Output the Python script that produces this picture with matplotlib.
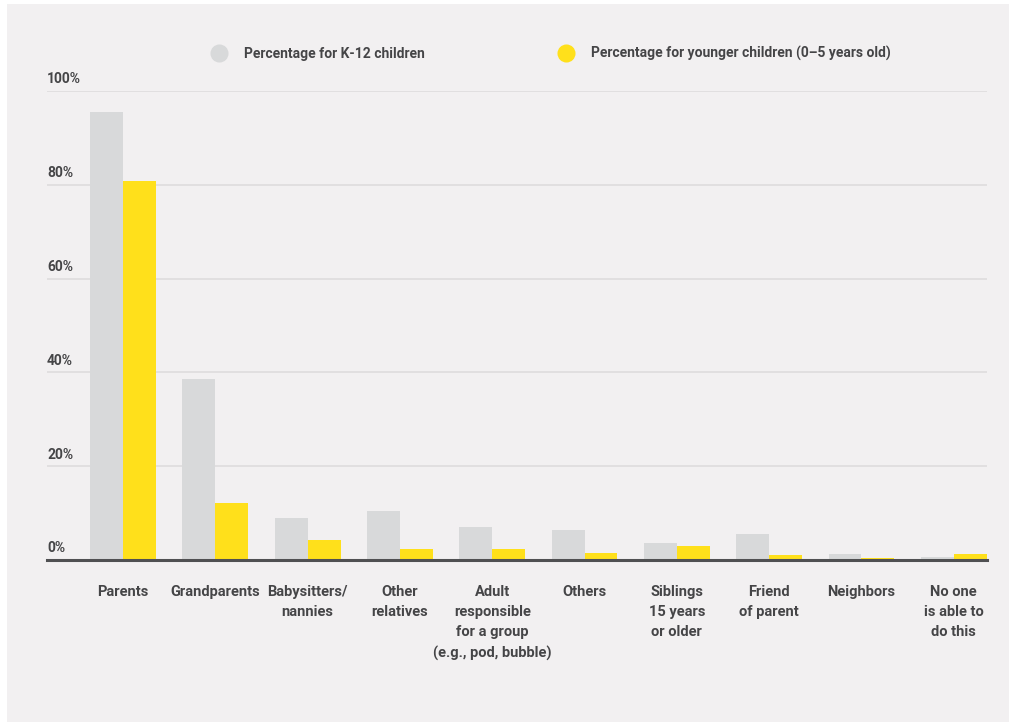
import matplotlib.pyplot as plt
import matplotlib.patches as mpatches
from matplotlib.lines import Line2D
import numpy as np

plt.rcParams["font.family"] = ["Roboto", "DejaVu Sans"]

categories = ["Parents", "Grandparents", "Babysitters/\nnannies", "Other\nrelatives",
              "Adult\nresponsible\nfor a group\n(e.g., pod, bubble)", "Others",
              "Siblings\n15 years\nor older", "Friend\nof parent", "Neighbors",
              "No one\nis able to\ndo this"]
k12 = [95.5, 38.6, 9.0, 10.4, 7.0, 6.4, 3.6, 5.5, 1.3, 0.6]
younger = [80.8, 12.2, 4.3, 2.3, 2.3, 1.5, 3.0, 1.1, 0.4, 1.3]
series_names = ["Percentage for K-12 children", "Percentage for younger children (0\u20135 years old)"]
yticks = [0, 20, 40, 60, 80, 100]

GRAY = "#d8d9da"
YELLOW = "#ffe01b"
BG = "#f2f0f1"
TXT = "#454547"

fig = plt.figure(figsize=(10.11, 7.26), dpi=100, facecolor="white")
fig.patches.append(mpatches.Rectangle((7/1011, 4/726), 1002/1011, 718/726,
                                      transform=fig.transFigure, facecolor=BG,
                                      edgecolor="none", zorder=-10))
ax = fig.add_axes([47/1011, 1 - 560/726, 940/1011, 469/726])
ax.set_facecolor("none")

x = np.arange(len(categories))
w = 0.357
ax.bar(x - w/2, k12, width=w, color=GRAY, zorder=3)
ax.bar(x + w/2, younger, width=w, color=YELLOW, zorder=3)

ax.set_xlim(-0.823, 9.36)
ax.set_ylim(0, 100)

for s in ["top", "right", "left"]:
    ax.spines[s].set_visible(False)
ax.spines["bottom"].set_color("#505052")
ax.spines["bottom"].set_linewidth(2.2)
ax.spines["bottom"].set_zorder(4)

# percent labels sit just above each gridline
ax.set_yticks(yticks)
ax.set_yticklabels([])
ax.tick_params(axis="y", length=0)
ax.grid(axis="y", color="#dedcdd", linewidth=1.2, zorder=0)
for v in yticks:
    ax.text(0, v + 1.0, "%d%%" % v, transform=ax.get_yaxis_transform(), ha="left",
            va="bottom", fontsize=10, fontweight="bold", color=TXT)

ax.set_xticks(x)
ax.set_xticklabels(categories, fontsize=10.5, fontweight="bold", color=TXT,
                   linespacing=1.55, va="top")
ax.tick_params(axis="x", length=0, pad=18)

handles = [Line2D([], [], marker="o", linestyle="none", markersize=13,
                  markerfacecolor=c, markeredgecolor="none") for c in (GRAY, YELLOW)]
leg = fig.legend(handles, series_names, loc="center", bbox_to_anchor=(0.5455, 1 - 53.5/726),
                 ncol=2, frameon=False, columnspacing=9.7, handletextpad=1.3,
                 handlelength=1.0, prop={"weight": "bold", "size": 10})
for t in leg.get_texts():
    t.set_color(TXT)

fig.savefig("out.png", dpi=100, facecolor="white")
